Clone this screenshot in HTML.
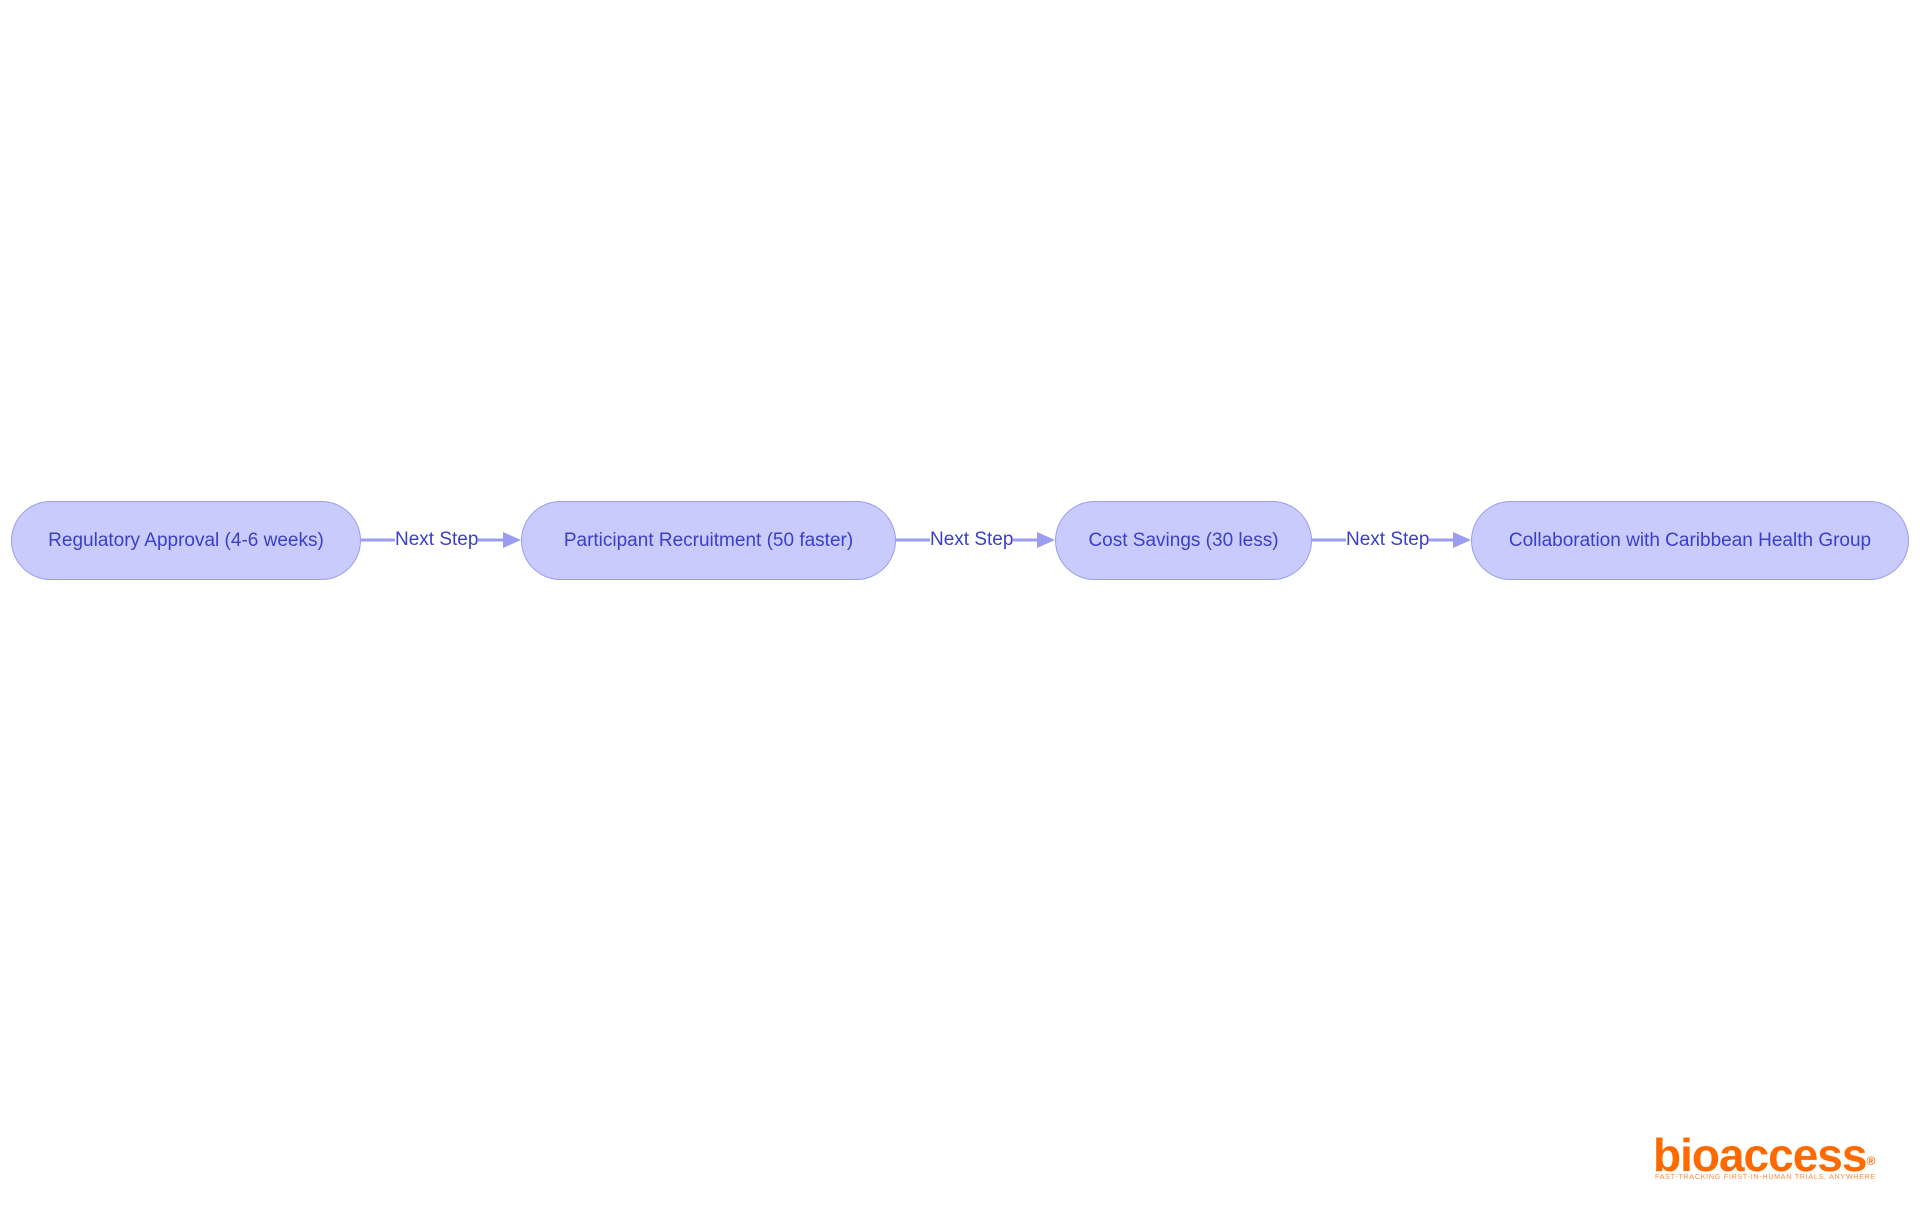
<!DOCTYPE html>
<html><head><style>
body{margin:0;width:1920px;height:1215px;background:#fff;position:relative;overflow:hidden;font-family:"Liberation Sans",sans-serif}
.n{position:absolute;top:501px;height:79px;background:#c9cbfc;border:1.5px solid #9a9df0;border-radius:40px;box-sizing:border-box;display:flex;align-items:center;justify-content:center;color:#3a3fc8;font-size:19px;white-space:nowrap}
.l{position:absolute;top:529px;color:#3a3fc8;font-size:19px;background:#fff;line-height:22px}
</style></head><body>
<svg width="1920" height="1215" style="position:absolute;left:0;top:0">
<g stroke="#9a9df0" stroke-width="3">
<line x1="360" y1="540" x2="506" y2="540"/>
<line x1="895" y1="540" x2="1040" y2="540"/>
<line x1="1311" y1="540" x2="1456" y2="540"/>
</g>
<g fill="#9a9df0">
<polygon points="503,532 521,540 503,548"/>
<polygon points="1037,532 1055,540 1037,548"/>
<polygon points="1453,532 1471,540 1453,548"/>
</g>
</svg>
<div class="n" style="left:11px;width:350px">Regulatory Approval (4-6 weeks)</div>
<div class="n" style="left:521px;width:375px">Participant Recruitment (50 faster)</div>
<div class="n" style="left:1055px;width:257px">Cost Savings (30 less)</div>
<div class="n" style="left:1471px;width:438px">Collaboration with Caribbean Health Group</div>
<div class="l" style="left:395px">Next Step</div>
<div class="l" style="left:930px">Next Step</div>
<div class="l" style="left:1346px">Next Step</div>
<div style="position:absolute;left:1653px;top:1130px;color:#ff6a00;font-weight:bold;font-size:46px;letter-spacing:-1px;line-height:50px">bioaccess<span style="font-size:12px;vertical-align:top;position:relative;top:6px">®</span></div>
<div style="position:absolute;left:1655px;top:1174px;color:#ff8a3a;font-size:7px;letter-spacing:0.8px">FAST-TRACKING FIRST-IN-HUMAN TRIALS, ANYWHERE</div>
</body></html>
